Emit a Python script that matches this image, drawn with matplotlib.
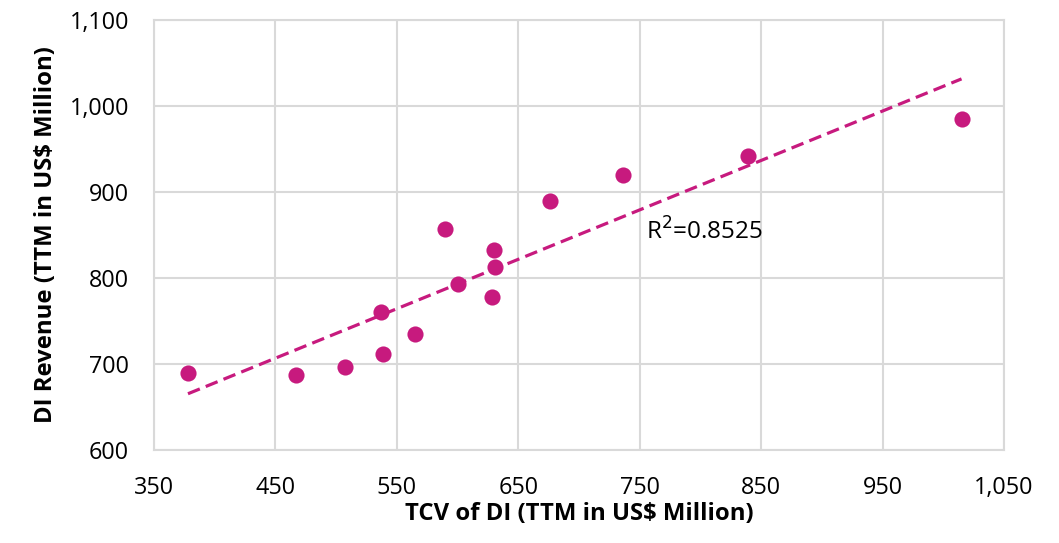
import numpy as np
import matplotlib.pyplot as plt
from matplotlib.ticker import FuncFormatter

# TCV of DI vs DI revenue, both TTM in US$ million
tcv = [378, 467, 507, 539, 537, 565, 600, 628, 631, 630, 590, 676, 736, 839, 1015]
revenue = [689, 687, 696, 712, 760, 735, 793, 778, 813, 832, 857, 890, 920, 942, 985]
x_ticks = [350, 450, 550, 650, 750, 850, 950, 1050]
y_ticks = [600, 700, 800, 900, 1000, 1100]
r2_label = "R$^2$=0.8525"

pink = "#C71A7E"
grid_grey = "#D9D9D9"

plt.rcParams['font.family'] = ['Open Sans', 'DejaVu Sans']

fig = plt.figure(figsize=(10.59, 5.43), dpi=100)
ax = fig.add_axes([0.1454, 0.1713, 0.9481 - 0.1454, 0.9632 - 0.1713])

ax.scatter(tcv, revenue, s=135, color=pink, zorder=3, linewidths=0)

# linear trend line across the data range
slope, icpt = np.polyfit(tcv, revenue, 1)
xs = np.array([min(tcv), max(tcv)])
ax.plot(xs, slope * xs + icpt, color=pink, lw=2.3, ls=(0, (4, 2)), zorder=2)

ax.text(755, 854, r2_label, fontsize=17.5, va='center', ha='left')

ax.set_xlim(350, 1050)
ax.set_ylim(600, 1100)
ax.set_xticks(x_ticks)
ax.set_yticks(y_ticks)
fmt = FuncFormatter(lambda v, p: f"{int(v):,}")
ax.xaxis.set_major_formatter(fmt)
ax.yaxis.set_major_formatter(fmt)
ax.tick_params(length=0, labelsize=16.8)
ax.tick_params(axis='y', pad=18)
ax.tick_params(axis='x', pad=19)
ax.grid(True, color=grid_grey, lw=1.5)
ax.set_axisbelow(True)
for sp in ax.spines.values():
    sp.set_color(grid_grey)
    sp.set_linewidth(1.5)

ax.set_xlabel("TCV of DI (TTM in US$ Million)", fontsize=17.2, fontweight='bold', labelpad=1)
ax.set_ylabel("DI Revenue (TTM in US$ Million)", fontsize=17.2, fontweight='bold', labelpad=8)

fig.savefig("out.png", dpi=100)
